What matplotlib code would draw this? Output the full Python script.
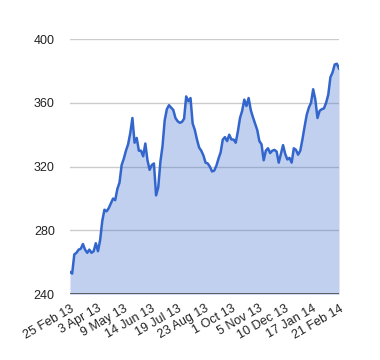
import numpy as np
import matplotlib.pyplot as plt

# closing values, read every 2nd trading day (25 Feb 13 .. 21 Feb 14)
values = [
    254, 253, 265, 266, 268, 268.5, 271.5, 268, 266, 268,
    266, 267, 272, 267, 274, 286, 293, 292, 294, 297,
    300, 299, 306, 310, 321, 325, 330, 334, 341, 350.5,
    335, 338, 330, 330, 326.5, 334.5, 324, 318, 321, 322,
    302, 307, 323, 333, 349, 356, 358.5, 357, 355.5, 350.5,
    348.5, 347.5, 348, 350, 364, 361, 363, 347, 343, 337,
    332, 330, 327, 322.5, 322, 320, 317, 317.5, 320.5, 325,
    329, 337, 338.5, 336, 340, 337, 337, 335, 342, 350.5,
    355, 362, 358, 363, 355.5, 351, 347, 343, 336, 334,
    324, 330, 331.5, 328.5, 330, 330.5, 329.5, 322.5, 328, 333.5,
    328, 324.5, 325.5, 322.5, 331.5, 330.5, 327.5, 330, 337, 345,
    352.5, 357, 360, 368.5, 362, 350.5, 355, 356, 356.5, 360,
    365, 376, 379, 384, 384.5, 381.5,
]
step = 2
tick_labels = ['25 Feb 13', '3 Apr 13', '9 May 13', '14 Jun 13', '19 Jul 13',
               '23 Aug 13', '1 Oct 13', '5 Nov 13', '10 Dec 13', '17 Jan 14',
               '21 Feb 14']
tick_every = 25
y_ticks = [240, 280, 320, 360, 400]

plt.rcParams['font.family'] = ['Liberation Sans', 'DejaVu Sans']

x = np.arange(len(values)) * step
y = np.array(values)

fig = plt.figure(figsize=(3.8, 3.6), dpi=100)
ax = fig.add_axes([70 / 380, 65.7 / 360, 269 / 380, 255.3 / 360])

for t in y_ticks[1:]:
    ax.axhline(t, color='#cccccc', lw=1, zorder=0)

ax.fill_between(x, y, y_ticks[0], color='#3366cc', alpha=0.3, lw=0, zorder=1)
ax.plot(x, y, color='#3366cc', lw=1.8, zorder=3)
ax.axhline(y_ticks[0], color='#555555', lw=1.3, zorder=4)

ax.set_xlim(0, x[-1])
ax.set_ylim(y_ticks[0], y_ticks[-1])
ax.set_yticks(y_ticks)
ax.set_yticklabels([str(t) for t in y_ticks])
ax.set_xticks(np.arange(len(tick_labels)) * tick_every)
ax.set_xticklabels(tick_labels, rotation=30, ha='right', rotation_mode='anchor')

for s in ax.spines.values():
    s.set_visible(False)
ax.tick_params(axis='both', length=0, labelsize=9, colors='#222222')
ax.tick_params(axis='y', pad=11)
ax.tick_params(axis='x', pad=6)

fig.savefig('out.png', dpi=100)
